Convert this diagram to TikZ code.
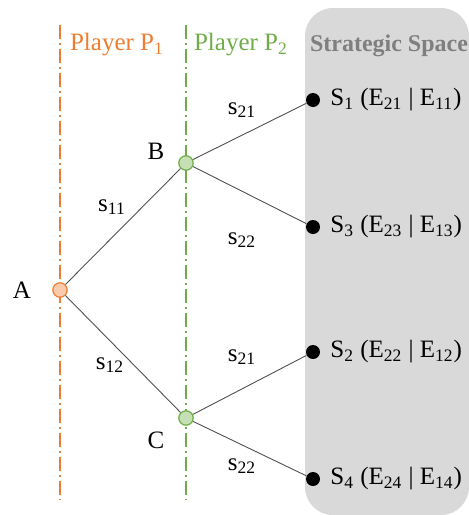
\documentclass[tikz,border=0pt]{standalone}
\usepackage{fontspec}
\setmainfont{Liberation Serif}
\usepackage{xcolor}
\usetikzlibrary{positioning,calc}

\definecolor{pone}{HTML}{ED7D31}
\definecolor{ponefill}{HTML}{F8CBAD}
\definecolor{ptwo}{HTML}{70AD47}
\definecolor{ptwofill}{HTML}{C5E0B4}
\definecolor{spacefill}{HTML}{D9D9D9}
\definecolor{spacetext}{HTML}{7F7F7F}
\definecolor{edgecol}{HTML}{505050}

\begin{document}
\begin{tikzpicture}[
    x=0.5pt, y=-0.5pt,
    font=\fontsize{12.5}{15}\selectfont,
    playerline/.style={line width=0.75pt, dash pattern=on 7pt off 2pt on 1pt off 2pt},
    decision/.style={circle, draw, line width=0.6pt, minimum size=7.2pt, inner sep=0pt},
    outcome/.style={circle, fill=black, minimum size=7pt, inner sep=0pt},
    move/.style={draw=edgecol, line width=0.45pt},
    lbl/.style={inner sep=1pt}
]
\useasboundingbox (0,0) rectangle (469,515);

% Strategic space
\fill[spacefill, rounded corners=14pt] (305,8) rectangle (469,515);
\node[font=\fontsize{12}{14}\selectfont\bfseries, text=spacetext] (space) at (389,46) {Strategic Space};

% Player lines
\draw[playerline, pone] (60,25) -- (60,500);
\draw[playerline, ptwo] (186,25) -- (186,500);
\node[text=pone, anchor=west] (playerone) at (63,45) {Player P\textsubscript{1}};
\node[text=ptwo, anchor=west] (playertwo) at (187,45) {Player P\textsubscript{2}};

% Decision nodes
\node[decision, draw=pone, fill=ponefill] (a) at (60,290) {};
\node[decision, draw=ptwo, fill=ptwofill] (b) at (186,163) {};
\node[decision, draw=ptwo, fill=ptwofill] (c) at (186,418) {};
\node[lbl] (alabel) at (22,290) {A};
\node[lbl] (blabel) at (156,151) {B};
\node[lbl] (clabel) at (156,440) {C};

% Outcomes
\node[outcome] (sone) at (313,100) {};
\node[outcome] (sthree) at (313,227) {};
\node[outcome] (stwo) at (313,352) {};
\node[outcome] (sfour) at (313,479) {};
\node[lbl, anchor=west] (soneinfo) at (328,100) {S\textsubscript{1} (E\textsubscript{21} | E\textsubscript{11})};
\node[lbl, anchor=west] (sthreeinfo) at (328,227) {S\textsubscript{3} (E\textsubscript{23} | E\textsubscript{13})};
\node[lbl, anchor=west] (stwoinfo) at (328,352) {S\textsubscript{2} (E\textsubscript{22} | E\textsubscript{12})};
\node[lbl, anchor=west] (sfourinfo) at (328,479) {S\textsubscript{4} (E\textsubscript{24} | E\textsubscript{14})};

% Moves
\draw[move] (a) -- (b);
\draw[move] (a) -- (c);
\draw[move] (b) -- (sone);
\draw[move] (b) -- (sthree);
\draw[move] (c) -- (stwo);
\draw[move] (c) -- (sfour);

% Move labels
\node[lbl] (sonemove) at (112,207) {s\textsubscript{11}};
\node[lbl] (stwomove) at (110,365) {s\textsubscript{12}};
\node[lbl] (bupper) at (242,110) {s\textsubscript{21}};
\node[lbl] (blower) at (242,240) {s\textsubscript{22}};
\node[lbl] (cupper) at (242,357) {s\textsubscript{21}};
\node[lbl] (clower) at (242,466) {s\textsubscript{22}};

\end{tikzpicture}
\end{document}
